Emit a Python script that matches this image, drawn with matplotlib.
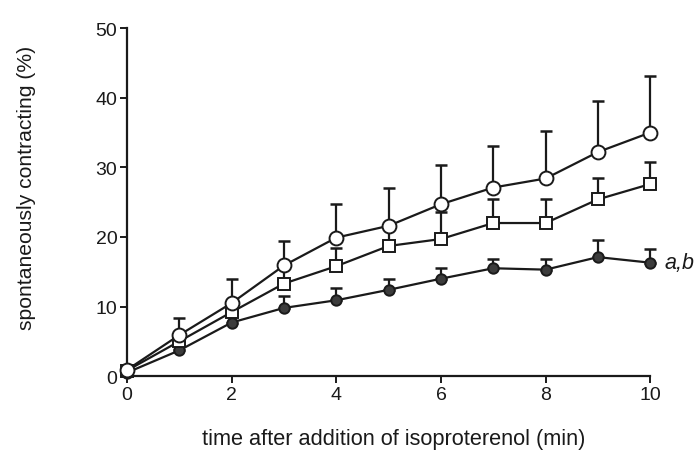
import numpy as np
import matplotlib
matplotlib.use("Agg")
import matplotlib.pyplot as plt

plt.rcParams['font.family'] = ['Liberation Sans', 'DejaVu Sans']

# time points (min)
time_min = [0, 1, 2, 3, 4, 5, 6, 7, 8, 9, 10]

# open circles
open_circle_mean = [0.9, 5.9, 10.5, 15.9, 19.9, 21.6, 24.7, 27.1, 28.4, 32.2, 35.0]
open_circle_sem = [0, 2.4, 3.4, 3.5, 4.9, 5.5, 5.6, 6.0, 6.8, 7.3, 8.1]

# open squares
square_mean = [0.8, 5.0, 9.2, 13.3, 15.8, 18.7, 19.7, 22.0, 22.0, 25.4, 27.6]
square_sem = [0, 1.0, 1.5, 2.3, 2.6, 3.0, 3.9, 3.5, 3.5, 3.0, 3.2]

# filled circles
filled_mean = [0.5, 3.7, 7.7, 9.8, 10.9, 12.4, 14.0, 15.5, 15.3, 17.1, 16.3]
filled_sem = [0, 0.8, 1.0, 1.7, 1.7, 1.6, 1.5, 1.4, 1.5, 2.4, 2.0]

x_ticks = [0, 2, 4, 6, 8, 10]
y_ticks = [0, 10, 20, 30, 40, 50]

ink = '#1a1a1a'

fig = plt.figure(figsize=(6.94, 4.56), dpi=100)
ax = fig.add_axes([0.183, 0.173, 0.754, 0.763])


def draw_series(mean, sem, marker, ms, face, z):
    t = np.array(time_min, dtype=float)
    m = np.array(mean, dtype=float)
    e = np.array(sem, dtype=float)
    ax.errorbar(t, m, yerr=[np.zeros_like(e), e], fmt='none', ecolor=ink,
                elinewidth=1.6, capsize=4.5, capthick=1.8, zorder=z,
                clip_on=False)
    ax.plot(t, m, color=ink, lw=1.6, marker=marker, ms=ms,
            markerfacecolor=face, markeredgecolor=ink, markeredgewidth=1.4,
            zorder=z + 0.5, clip_on=False)


draw_series(filled_mean, filled_sem, 'o', 7.5, '#3c3c3c', 3)
draw_series(square_mean, square_sem, 's', 8.5, 'white', 4)
draw_series(open_circle_mean, open_circle_sem, 'o', 10, 'white', 5)

ax.text(10.28, filled_mean[-1], 'a,b', style='italic', fontsize=15.5,
        va='center', ha='left', color=ink)

ax.set_xlim(0, 10)
ax.set_ylim(0, 50)
ax.set_xticks(x_ticks)
ax.set_yticks(y_ticks)
ax.spines['top'].set_visible(False)
ax.spines['right'].set_visible(False)
for s in ('left', 'bottom'):
    ax.spines[s].set_linewidth(1.6)
    ax.spines[s].set_color(ink)
ax.tick_params(direction='out', length=5, width=1.4, colors=ink,
               labelsize=14, pad=2)
ax.set_xlabel('time after addition of isoproterenol (min)', fontsize=15.7,
              color=ink)
ax.set_ylabel('spontaneously contracting (%)', fontsize=15.2, color=ink)
ax.xaxis.set_label_coords(0.509, -0.15)
ax.yaxis.set_label_coords(-0.173, 0.543)

fig.savefig('out.png', dpi=100)
